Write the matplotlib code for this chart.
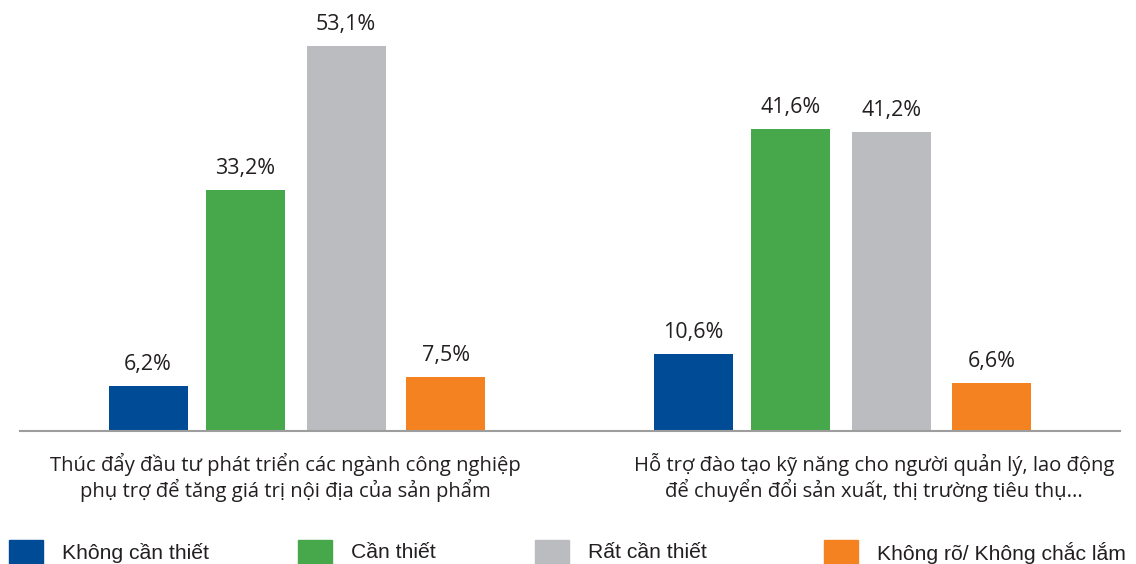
import numpy as np
import matplotlib.pyplot as plt
from matplotlib.patches import Rectangle

# data
categories = [
    "Thúc đẩy đầu tư phát triển các ngành công nghiệp\nphụ trợ để tăng giá trị nội địa của sản phẩm",
    "Hỗ trợ đào tạo kỹ năng cho người quản lý, lao động\nđể chuyển đổi sản xuất, thị trường tiêu thụ...",
]
series_names = ["Không cần thiết", "Cần thiết", "Rất cần thiết", "Không rõ/ Không chắc lắm"]
khong_can = [6.2, 10.6]
can = [33.2, 41.6]
rat_can = [53.1, 41.2]
khong_ro = [7.5, 6.6]
values = [khong_can, can, rat_can, khong_ro]

colors = ["#004b96", "#47a84b", "#bbbcc0", "#f48221"]
text_color = "#231f20"
main_font = ["Open Sans", "DejaVu Sans"]

fig = plt.figure(figsize=(11.36, 5.64), dpi=100)
# axes spans pixel x 20..1120, baseline at pixel y 431
ax = fig.add_axes([20 / 1136, 1 - 431 / 564, 1100 / 1136, 431 / 564])
ax.set_xlim(-0.507, 1.51)
ax.set_ylim(0, 59.4)

x = np.arange(len(categories))
offsets = [-0.272, -0.094, 0.091, 0.274]
width = 0.145

for vals, off, col in zip(values, offsets, colors):
    bars = ax.bar(x + off, vals, width=width, color=col)
    for b, v in zip(bars, vals):
        ax.annotate(f"{v:.1f}%".replace(".", ","),
                    (b.get_x() + b.get_width() / 2, v),
                    xytext=(0, 11.5), textcoords="offset points",
                    ha="center", va="baseline", fontsize=15.5,
                    color=text_color, family=main_font)

# category labels under each group
label_shift = [-0.021, 0.059]
for xi, lab, sh in zip(x, categories, label_shift):
    ax.text(xi + sh, -6.4, lab, ha="center", va="center", fontsize=14.6,
            linespacing=1.15, color=text_color, family=main_font, clip_on=False)

for s in ["top", "right", "left"]:
    ax.spines[s].set_visible(False)
ax.spines["bottom"].set_color("#9d9d9d")
ax.spines["bottom"].set_linewidth(1.5)
ax.set_xticks([])
ax.set_yticks([])

# legend drawn by hand, spacing in the original is uneven
legend_x = [9, 298, 535, 824]
for lx, name, col in zip(legend_x, series_names, colors):
    fig.patches.append(Rectangle((lx / 1136, 0), 34 / 1136, 24 / 564,
                                 transform=fig.transFigure, color=col))
    fig.text((lx + 53) / 1136, 11 / 564, name, ha="left", va="center",
             fontsize=15.2, color=text_color, family=["Liberation Sans", "DejaVu Sans"])

fig.savefig("out.png", dpi=100)
